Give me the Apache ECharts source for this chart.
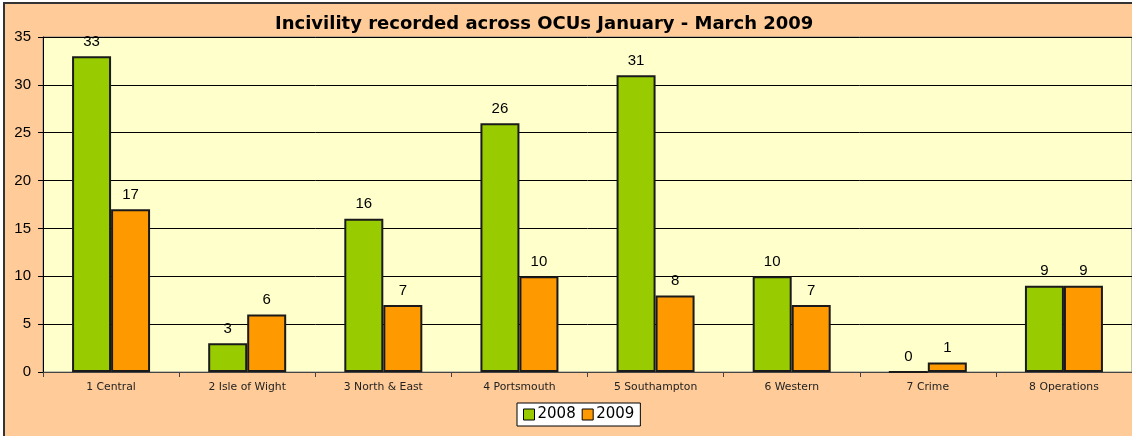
<!DOCTYPE html>
<html>
<head>
<meta charset="utf-8">
<style>
  html, body { margin: 0; padding: 0; background: #ffffff; }
  #chart { width: 1132px; height: 436px; }
</style>
<script src="https://cdn.jsdelivr.net/npm/echarts@6/dist/echarts.min.js"></script>
</head>
<body>
<div id="chart"></div>
<script>
const categories = ["1 Central", "2 Isle of Wight", "3 North & East", "4 Portsmouth", "5 Southampton", "6 Western", "7 Crime", "8 Operations"];
const values2008 = [33, 3, 16, 26, 31, 10, 0, 9];
const values2009 = [17, 6, 7, 10, 8, 7, 1, 9];
const seriesNames = ["2008", "2009"];

const chart = echarts.init(document.getElementById("chart"));

const barLabel = {
  show: true,
  position: "top",
  distance: 7,
  color: "#000",
  fontFamily: "Liberation Sans",
  fontSize: 15,
};

chart.setOption({
  animation: false,
  backgroundColor: "#ffffff",
  graphic: [
    {
      type: "rect",
      z: -100,
      shape: { x: 4, y: 3, width: 1140, height: 445 },
      style: { fill: "#FFCC99", stroke: "#333", lineWidth: 2 },
    },
  ],
  title: {
    text: "Incivility recorded across OCUs January - March 2009",
    left: 270,
    top: 10,
    textStyle: {
      fontFamily: "DejaVu Sans",
      fontWeight: "bold",
      fontSize: 18,
      color: "#000",
    },
  },
  legend: {
    data: seriesNames,
    left: 517,
    top: 403,
    padding: [4, 6],
    itemGap: 6,
    itemWidth: 11,
    itemHeight: 11,
    icon: "rect",
    backgroundColor: "#ffffff",
    borderColor: "#000",
    borderWidth: 1,
    borderRadius: 0,
    itemStyle: { borderColor: "#000", borderWidth: 1 },
    textStyle: { fontFamily: "DejaVu Sans", fontSize: 15, color: "#000", padding: [0, 0, 0, -2] },
  },
  grid: {
    left: 43,
    top: 37,
    right: 0,
    bottom: 64,
    show: true,
    backgroundColor: "#FFFFCC",
    borderColor: "#888",
    borderWidth: 1,
  },
  xAxis: {
    type: "category",
    data: categories,
    axisLine: { lineStyle: { color: "#444", width: 1 } },
    axisTick: { show: true, length: 5, lineStyle: { color: "#444" } },
    axisLabel: {
      fontFamily: "DejaVu Sans",
      fontSize: 10.8,
      color: "#222",
      margin: 10,
      interval: 0,
    },
  },
  yAxis: {
    type: "value",
    min: 0,
    max: 35,
    interval: 5,
    axisLine: { show: true, lineStyle: { color: "#000", width: 1 } },
    axisTick: { show: true, length: 5, lineStyle: { color: "#000" } },
    axisLabel: { fontFamily: "Liberation Sans", fontSize: 15, color: "#000", margin: 12 },
    splitLine: { show: true, lineStyle: { color: "#000", width: 1 } },
  },
  series: [
    {
      name: seriesNames[0],
      type: "bar",
      data: values2008,
      barWidth: 39,
      barGap: "0%",
      itemStyle: { color: "#99CC00", borderColor: "#1a1a1a", borderWidth: 2 },
      label: barLabel,
    },
    {
      name: seriesNames[1],
      type: "bar",
      data: values2009,
      barWidth: 39,
      itemStyle: { color: "#FF9900", borderColor: "#1a1a1a", borderWidth: 2 },
      label: barLabel,
    },
  ],
});
</script>
</body>
</html>
